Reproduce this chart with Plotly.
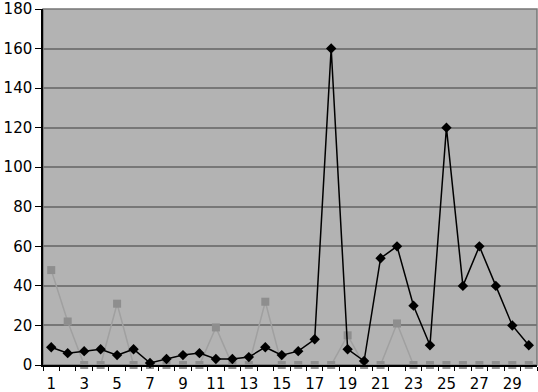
import plotly.graph_objects as go

days = list(range(1, 31))
series_black = [9, 6, 7, 8, 5, 8, 1, 3, 5, 6, 3, 3, 4, 9, 5, 7, 13, 160, 8, 2,
                54, 60, 30, 10, 120, 40, 60, 40, 20, 10]
series_gray = [48, 22, 0, 0, 31, 0, 0, 0, 0, 0, 19, 0, 0, 32, 0, 0, 0, 0, 15, 0,
               0, 21, 0, 0, 0, 0, 0, 0, 0, 0]
y_ticks = list(range(0, 181, 20))
x_ticks = list(range(1, 30, 2))

fig = go.Figure()
fig.add_trace(go.Scatter(
    x=days, y=series_gray, mode="lines+markers",
    line=dict(color="#a0a0a0", width=1.5),
    marker=dict(symbol="square", size=8, color="#8e8e8e"),
    cliponaxis=False, showlegend=False))
fig.add_trace(go.Scatter(
    x=days, y=series_black, mode="lines+markers",
    line=dict(color="#000000", width=1.5),
    marker=dict(symbol="diamond", size=8, color="#000000"),
    cliponaxis=False, showlegend=False))

fig.update_layout(
    width=538, height=392,
    margin=dict(l=43, r=1, t=9, b=27, autoexpand=False),
    paper_bgcolor="white", plot_bgcolor="#b3b3b3",
    font=dict(family="DejaVu Sans", size=15, color="black"),
    shapes=[dict(type="rect", xref="paper", yref="paper", x0=0, x1=1, y0=0, y1=1,
                 line=dict(color="#777777", width=1.5), layer="below")],
)
fig.update_xaxes(
    range=[0.5, 30.5], tickvals=x_ticks, ticktext=[str(v) for v in x_ticks],
    ticks="", showgrid=False, zeroline=False, automargin=False,
    ticklabeloverflow="allow", ticklabelstandoff=4,
    showline=True, linecolor="black", linewidth=1.5,
    minor=dict(tickvals=[i + 0.5 for i in range(0, 31)], ticks="outside",
               ticklen=4, tickcolor="black", showgrid=False),
)
fig.update_yaxes(
    range=[0, 180], tickvals=y_ticks, ticks="outside", ticklen=6, tickcolor="black",
    showgrid=True, gridcolor="#777777", gridwidth=1.5, zeroline=False, automargin=False,
    ticklabeloverflow="allow",
    showline=True, linecolor="black", linewidth=1.5,
)
fig.write_html("out.html", config={"displayModeBar": False},
               post_script="document.body.style.margin='0';document.body.style.overflow='hidden';")
